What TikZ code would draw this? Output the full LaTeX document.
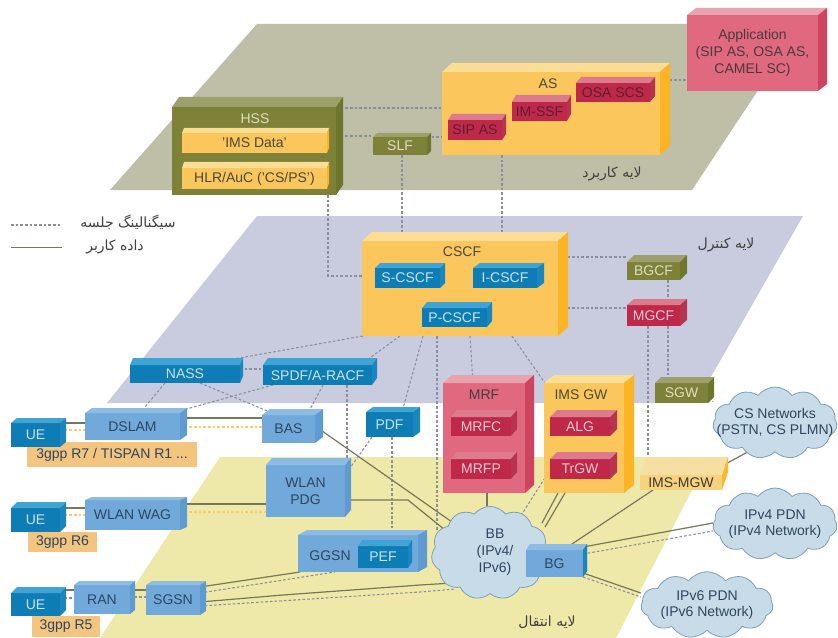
\documentclass[tikz,border=0pt]{standalone}
\usepackage{fontspec}
\setmainfont{Liberation Sans}
\newfontfamily\fafont[Script=Arabic]{DejaVu Sans}
\TeXXeTstate=1
\usetikzlibrary{shapes.symbols,calc}
\pgfdeclarelayer{bg}\pgfdeclarelayer{conn}\pgfsetlayers{bg,conn,main}
\definecolor{planeA}{HTML}{BFBEA6}\definecolor{planeB}{HTML}{C9CCDF}\definecolor{planeC}{HTML}{EEE9A8}
\definecolor{orF}{HTML}{FBC65B}\definecolor{orT}{HTML}{FCDD94}\definecolor{orS}{HTML}{FBB524}\definecolor{orX}{HTML}{4A4A3A}
\definecolor{paleF}{HTML}{F9D27E}\definecolor{paleT}{HTML}{F6DFA0}\definecolor{paleS}{HTML}{FBB82A}\definecolor{paleX}{HTML}{3A3A30}
\definecolor{dbF}{HTML}{0E7DB5}\definecolor{dbT}{HTML}{3FA4D3}\definecolor{dbS}{HTML}{1A86BD}\definecolor{dbX}{HTML}{C8E4F2}
\definecolor{lbF}{HTML}{71AADA}\definecolor{lbT}{HTML}{8CBCE2}\definecolor{lbS}{HTML}{5F9BD0}\definecolor{lbX}{HTML}{2E4560}
\definecolor{crF}{HTML}{C0284A}\definecolor{crT}{HTML}{DD7A8C}\definecolor{crS}{HTML}{B53450}\definecolor{crX}{HTML}{F3C9D0}
\definecolor{cdF}{HTML}{C0284A}\definecolor{cdT}{HTML}{DD7A8C}\definecolor{cdS}{HTML}{B53450}\definecolor{cdX}{HTML}{5A2030}
\definecolor{pkF}{HTML}{E0697F}\definecolor{pkT}{HTML}{E9A3AE}\definecolor{pkS}{HTML}{CF4560}\definecolor{pkX}{HTML}{4A3A40}
\definecolor{olF}{HTML}{7E8138}\definecolor{olT}{HTML}{9EA06C}\definecolor{olS}{HTML}{70752E}\definecolor{olX}{HTML}{DDE0C0}
\definecolor{bgS}{HTML}{1A86BD}
\definecolor{cloudF}{HTML}{C7DCE8}\definecolor{cloudD}{HTML}{7FA0B5}
\definecolor{tagF}{HTML}{F3C57F}
\definecolor{sigC}{HTML}{8A8FA0}\definecolor{datC}{HTML}{77775A}
\tikzset{
  x=0.75pt,y=-0.75pt,
  txt/.style={font=\fontsize{10.5}{12.5}\selectfont,align=center,text=#1,inner sep=0pt},
  txt/.default={lbX},
  fatxt/.style={font=\fafont\fontsize{10.5}{12}\selectfont,text=black!75,inner sep=0pt},
  front/.style={inner sep=0pt,outer sep=0pt,align=center,font=\fontsize{10.5}{12.5}\selectfont},
  sig/.style={draw=sigC,line width=0.8pt,dash pattern=on 2pt off 1.5pt},
  dat/.style={draw=datC,line width=0.9pt},
  netcloud/.style={cloud,cloud puffs=11,cloud puff arc=105,cloud ignores aspect,fill=cloudF,draw=cloudD,line width=0.6pt,inner sep=0pt},
  tag/.style={fill=tagF,inner sep=0pt,outer sep=0pt,font=\fontsize{10.5}{12.5}\selectfont,text=lbX},
}
% name,x0,y0,x1,y1,ytop,xside,palette,text
\newcommand\cbox[9]{%
  \node[front,fill=#8F,text=#8X,minimum width={(#4-#2)*0.75pt},minimum height={(#5-#3)*0.75pt}]
     (#1) at ({(#2+#4)/2},{(#3+#5)/2}) {#9};
  \fill[#8T] (#1.north west) -- ({#2+#7-#4},#6) -- (#7,#6) -- (#1.north east) -- cycle;
  \fill[#8S] (#1.north east) -- (#7,#6) -- (#7,{#5-#3+#6}) -- (#1.south east) -- cycle;
}
\begin{document}
\begin{tikzpicture}
\useasboundingbox (0,0) rectangle (838,638);
\begin{pgfonlayer}{bg}
  \fill[white] (0,0) rectangle (838,638);
  \fill[planeA] (257,24) -- (802,24) -- (692,190) -- (110,190) -- cycle;
  \fill[planeB] (257,216) -- (803,216) -- (696,403) -- (107,403) -- cycle;
  \fill[planeC] (220,457) -- (709,457) -- (616,638) -- (100,638) -- cycle;
\end{pgfonlayer}

% application layer
\cbox{app}{687}{15}{818}{91}{8}{827}{pk}{Application\\(SIP AS, OSA AS,\\CAMEL SC)}
\cbox{as}{442}{72}{660}{155}{63}{670}{or}{}
\node[txt=orX] (asL) at (548,84) {AS};
\cbox{sipas}{448}{120}{502}{140}{114}{506}{cd}{SIP AS}
\cbox{imssf}{512}{102}{567}{121}{95}{571}{cd}{IM-SSF}
\cbox{osascs}{576}{83}{650}{102}{77}{655}{cd}{OSA SCS}
\cbox{hss}{172}{107}{336}{195}{97}{343}{ol}{}
\node[txt=olX] (hssL) at (255,119) {HSS};
\cbox{imsdata}{182}{133}{327}{153}{128}{329}{or}{'IMS Data'}
\cbox{hlr}{182}{168}{327}{189}{162}{329}{or}{HLR/AuC ('CS/PS')}
\cbox{slf}{373}{137}{427}{155}{133}{431}{ol}{SLF}

% control layer
\cbox{cscf}{362}{241}{558}{336}{232}{568}{or}{}
\node[txt=orX] (cscfL) at (462,252) {CSCF};
\cbox{scscf}{375}{268}{440}{288}{263}{445}{db}{S-CSCF}
\cbox{icscf}{473}{268}{537}{288}{263}{544}{db}{I-CSCF}
\cbox{pcscf}{422}{308}{487}{327}{302}{492}{db}{P-CSCF}
\cbox{bgcf}{627}{262}{680}{280}{255}{687}{ol}{BGCF}
\cbox{mgcf}{627}{305}{680}{326}{299}{687}{cr}{MGCF}
\cbox{nass}{130}{365}{240}{383}{358}{243}{db}{NASS}
\cbox{spdf}{263}{365}{372}{385}{358}{377}{db}{SPDF/A-RACF}
\cbox{sgw}{655}{383}{708}{403}{377}{714}{ol}{SGW}

% access
\cbox{dslam}{85}{413}{180}{440}{408}{187}{lb}{DSLAM}
\cbox{bas}{262}{415}{315}{443}{409}{323}{lb}{BAS}
\cbox{pdf}{366}{412}{413}{437}{407}{420}{db}{PDF}
\cbox{wag}{85}{500}{180}{530}{497}{187}{lb}{WLAN WAG}
\cbox{pdg}{266}{465}{345}{517}{458}{351}{lb}{WLAN\\PDG}
\cbox{ggsn}{298}{535}{418}{572}{530}{427}{lb}{}
\node[txt] (ggsnL) at (330,556) {GGSN};
\cbox{pef}{358}{546}{408}{568}{540}{412}{db}{PEF}
\cbox{ran}{74}{585}{130}{614}{581}{135}{lb}{RAN}
\cbox{sgsn}{146}{585}{200}{615}{581}{206}{lb}{SGSN}
\node[tag,minimum width=127.5pt,minimum height=18.75pt] (t7) at (112,454.5) {3gpp R7 / TISPAN R1 ...};
\node[tag,minimum width=51.75pt,minimum height=15pt] (t6) at (62.5,542) {3gpp R6};
\node[tag,minimum width=51pt,minimum height=15.75pt] (t5) at (66,626.5) {3gpp R5};
\cbox{ueA}{11}{423}{60}{447}{418}{66}{db}{UE}
\cbox{ueB}{11}{508}{60}{532}{502}{66}{db}{UE}
\cbox{ueC}{11}{593}{60}{616}{587}{66}{db}{UE}

% media
\cbox{mrf}{443}{383}{525}{493}{375}{534}{pk}{}
\node[txt=pkX] (mrfL) at (484,395) {MRF};
\cbox{mrfc}{451}{417}{511}{436}{410}{517}{cr}{MRFC}
\cbox{mrfp}{451}{459}{511}{479}{452}{517}{cr}{MRFP}
\cbox{imsgw}{544}{383}{624}{493}{375}{634}{or}{}
\node[txt=orX] (imsgwL) at (581,395) {IMS GW};
\cbox{alg}{550}{417}{610}{436}{410}{617}{cr}{ALG}
\cbox{trgw}{550}{459}{610}{479}{452}{617}{cr}{TrGW}
\cbox{imsmgw}{640}{475}{722}{490}{457}{728}{pale}{IMS-MGW}

% clouds
\node[netcloud,minimum width=93pt,minimum height=54pt] (cs) at (775,423) {};
\node[txt] (csL) at (775,423) {CS Networks\\(PSTN, CS PLMN)};
\node[netcloud,minimum width=93pt,minimum height=54pt] (v4) at (775,524) {};
\node[txt] (v4L) at (775,524) {IPv4 PDN\\(IPv4 Network)};
\node[netcloud,minimum width=99pt,minimum height=50pt] (v6) at (707,605) {};
\node[txt] (v6L) at (707,605) {IPv6 PDN\\(IPv6 Network)};
\node[netcloud,minimum width=88pt,minimum height=70pt] (bb) at (490,553) {};
\node[txt,anchor=center] (bbL) at (495,552) {BB\\(IPv4/\\IPv6)};
\cbox{bgw}{526}{550}{583}{577}{544}{587}{lb}{BG}
\fill[bgS] (bgw.north east) -- (587,544) -- (587,571) -- (bgw.south east) -- cycle;

% legend and layer names
\coordinate (lgA) at (11,225); \coordinate (lgB) at (62,225);
\coordinate (lgC) at (11,247); \coordinate (lgD) at (62,247);
\node[fatxt] (lg1) at (128,222) {\beginR سیگنالینگ جلسه\endR};
\node[fatxt] (lg2) at (115,247) {\beginR داده کاربر\endR};
\node[fatxt] (l1) at (612,174) {\beginR لایه کاربرد\endR};
\node[fatxt] (l2) at (726,245) {\beginR لایه کنترل\endR};
\node[fatxt] (l3) at (547,622) {\beginR لایه انتقال\endR};

\begin{pgfonlayer}{conn}
  \draw[sig] (lgA) -- (lgB);
  \draw[dat,line width=.6pt] (lgC) -- (lgD);
  % signalling
  \draw[sig] (hss.east |- 0,108) -- (as.west |- 0,108);
  \draw[sig] (hss.east |- 0,136) -- (slf.west |- 0,136);
  \draw[sig] (slf.east |- 0,137) -- (as.west |- 0,137);
  \draw[sig] (slf.south -| 402,0) -- (cscf.north -| 402,0);
  \draw[sig] (hss.south -| 328,0) -- (328,276) -- (cscf.west |- 0,276);
  \draw[sig] (as.south -| 502,0) -- (cscf.north -| 502,0);
  \draw[sig] (as.east |- 0,80) -- (app.west |- 0,80);
  \draw[sig] (cscf.east |- 0,257) -- (bgcf.west |- 0,257);
  \draw[sig] (cscf.east |- 0,308) -- (mgcf.west |- 0,308);
  \draw[sig] (bgcf.south -| 668,0) -- (mgcf.north -| 668,0);
  \draw[sig] (mgcf.south -| 668,0) -- (sgw.north -| 668,0);
  \draw[sig] (mgcf.south -| 648,0) -- (imsmgw.north -| 648,0);
  \draw[sig] (sgw.east |- 0,393) -- (cs.west |- 0,402);
  \draw[sig] (cscf.south -| 470,0) -- (mrf.north -| 473,0);
  \draw[sig] (cscf.south -| 512,0) -- (imsgw.north -| 545,0);
  \draw[sig] (cscf.south -| 423,0) -- (pdf.north -| 402,0);
  \draw[sig] (cscf.south -| 363,0) -- (nass.north -| 200,0);
  \draw[sig] (cscf.south -| 400,0) -- (spdf.north -| 360,0);
  \draw[sig] (cscf.south -| 437,0) -- ($(bb)+(-53,-23)$);
  \draw[sig] (nass.east |- 0,369) -- (spdf.west |- 0,369);
  \draw[sig] (nass.south -| 165,0) -- (dslam.north -| 140,0);
  \draw[sig] (spdf.south -| 273,0) -- (dslam.north -| 172,0);
  \draw[sig] (nass.south -| 200,0) -- (bas.north -| 277,0);
  \draw[sig] (spdf.south -| 323,0) -- (bas.north -| 307,0);
  \draw[sig] (spdf.south -| 347,0) -- (pdg.north -| 347,0);
  \draw[sig] (pdf.south -| 372,0) -- (pdg.east |- 0,475);
  \draw[sig] (pdf.south -| 392,0) -- (ggsn.north -| 392,0);
  \draw[sig,draw=orS!70!white] (ueA.east |- 0,430) -- (dslam.west |- 0,430);
  \draw[sig,draw=orS!70!white] (dslam.east |- 0,427) -- (bas.west |- 0,427);
  \draw[sig,draw=orS!70!white] (ueB.east |- 0,515) -- (wag.west |- 0,515);
  \draw[sig,draw=orS!70!white] (wag.east |- 0,512) -- (pdg.west |- 0,512);
  \draw[sig] (ueC.east |- 0,598) -- (ran.west |- 0,598);
  \draw[sig] (ran.east |- 0,597) -- (sgsn.west |- 0,597);
  \draw[sig] (sgsn.east |- 0,593) -- (ggsn.south -| 335,0);
  \draw[sig] (sgsn.east |- 0,606) -- (420,592) -- ($(bb)+(-35,36)$);
  \draw[sig] (trgw.west |- 0,470) -- ($(bb)+(30,-36)$);
  \draw[sig] (bgw.east |- 0,554) -- (v4.west |- 0,531);
  \draw[sig] (bgw.south east) -- (v6.west |- 0,597);
  % user data
  \draw[dat] (ueA.east |- 0,423) -- (dslam.west |- 0,423);
  \draw[dat] (dslam.east |- 0,418) -- (bas.west |- 0,418);
  \draw[dat] (bas.east |- 0,426) -- ($(bb)+(-38,-31)$);
  \draw[dat] (pdg.east |- 0,500) -- (408,500) -- ($(bb)+(-45,-23)$);
  \draw[dat] (ueB.east |- 0,508) -- (wag.west |- 0,508);
  \draw[dat] (wag.east |- 0,504) -- (pdg.west |- 0,504);
  \draw[dat] (ueC.east |- 0,590) -- (ran.west |- 0,590);
  \draw[dat] (ran.east |- 0,590) -- (sgsn.west |- 0,590);
  \draw[dat] (sgsn.east |- 0,587) -- (ggsn.south -| 300,0);
  \draw[dat] (sgsn.east |- 0,602) -- (283,595) -- (420,585) -- ($(bb)+(-37,30)$);
  \draw[dat,line width=2pt] (mrf.south -| 487,0) -- (bb.north -| 487,0);
  \draw[dat] (imsgw.south -| 558,0) -- ($(bb)+(52,-30)$);
  \draw[dat] (imsgw.south -| 565,0) -- ($(bb)+(55,-26)$);
  \draw[dat] (imsmgw.south -| 653,0) -- (bgw.north -| 563,0);
  \draw[dat] (imsmgw.east |- 0,466) -- (cs.south -| 747,0);
  \draw[dat] (bgw.east |- 0,547) -- (v4.west |- 0,523);
  \draw[dat] (bgw.east |- 0,573) -- (v6.west |- 0,593);
\end{pgfonlayer}
\end{tikzpicture}
\end{document}
